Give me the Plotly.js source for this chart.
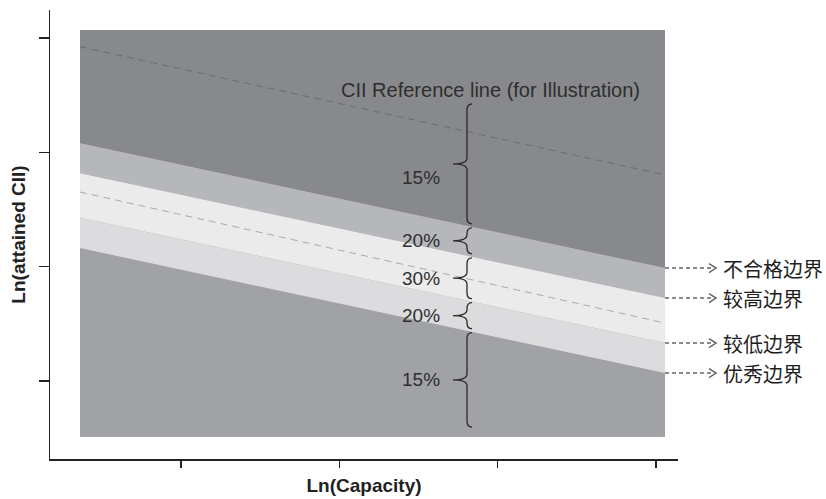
<!DOCTYPE html>
<html><head><meta charset="utf-8">
<script src="https://cdn.plot.ly/plotly-3.0.1.min.js"></script>
<style>html,body{margin:0;padding:0;background:#fff}</style>
</head><body><div id="chart" style="width:826px;height:499px"></div>
<script>
// ---- data (log-space values) ----
const capacityRange = [0.362, 4.057];          // Ln(Capacity) extent of the shaded region
const regionTop = 4.07;
const regionBottom = 0.510;
const refLineTop = [3.924, 2.802];             // CII reference line (illustration), left/right
const refLineMid = [2.653, 1.507];             // reference line inside the middle band
const boundaryNames = ['不合格边界', '较高边界', '较低边界', '优秀边界'];
const boundaryLeft  = [3.079, 2.817, 2.428, 2.163];
const boundaryRight = [1.988, 1.726, 1.332, 1.070];
const bandLabels = ['15%', '20%', '30%', '20%', '15%'];
const tickVals = [1, 2, 3, 4];

// ---- styling ----
const regionColors = ['#88898c', '#b6b7ba', '#ebebec', '#dcdcde', '#a1a2a5'];
const xRange = [0.1726, 4.139];
const yRange = [0.318, 4.245];
const W = 826, H = 499, M = {l: 50, r: 148, t: 10, b: 40};
const plotW = W - M.l - M.r, plotH = H - M.t - M.b;
const pxX = (xRange[1] - xRange[0]) / plotW;   // data per px
const pxY = (yRange[1] - yRange[0]) / plotH;

const x0 = capacityRange[0], x1 = capacityRange[1];
const bAt = (i, x) => boundaryLeft[i] + (boundaryRight[i] - boundaryLeft[i]) * (x - x0) / (x1 - x0);

const traces = [];
function poly(xs, ys, color) {
  traces.push({type: 'scatter', mode: 'lines', x: xs.concat([xs[0]]), y: ys.concat([ys[0]]),
    fill: 'toself', fillcolor: color, line: {width: 0, color: color}, hoverinfo: 'skip', showlegend: false});
}
// whole region (bottom colour)
poly([x0, x1, x1, x0], [regionBottom, regionBottom, regionTop, regionTop], regionColors[4]);
// top region
poly([x0, x1, x1, x0], [boundaryLeft[0], boundaryRight[0], regionTop, regionTop], regionColors[0]);
// bands between boundaries
for (let i = 0; i < 3; i++) {
  poly([x0, x1, x1, x0], [boundaryLeft[i + 1], boundaryRight[i + 1], boundaryRight[i], boundaryLeft[i]], regionColors[i + 1]);
}
// dashed reference lines
traces.push({type: 'scatter', mode: 'lines', x: [x0, x1], y: refLineTop,
  line: {color: '#6b6c6f', width: 1, dash: '7px,5px'}, hoverinfo: 'skip', showlegend: false});
traces.push({type: 'scatter', mode: 'lines', x: [x0, x1], y: refLineMid,
  line: {color: '#a9aaad', width: 1, dash: '7px,5px'}, hoverinfo: 'skip', showlegend: false});

// ---- braces ----
const xBody = x0 + (467 - 80) * pxX;
const xTip = xBody - 14 * pxX;
const xEnd = xBody + 5 * pxX;
const r = 6 * pxY, gap = 2 * pxY;
const braceTops = [regionTop - 74 * pxY];
const braceBots = [];
for (let i = 0; i < 4; i++) {
  braceBots.push(bAt(i, xBody) + gap);
  braceTops.push(bAt(i, xBody) - gap);
}
braceBots.push(regionBottom + 10 * pxY);

const shapes = [];
const annotations = [];
const labelX = xBody - 25 * pxX;
for (let k = 0; k < 5; k++) {
  const yt = braceTops[k], yb = braceBots[k], ym = (yt + yb) / 2;
  const p = `M${xEnd},${yt} Q${xBody},${yt} ${xBody},${yt - r} L${xBody},${ym + r} Q${xBody},${ym} ${xTip},${ym} ` +
            `Q${xBody},${ym} ${xBody},${ym - r} L${xBody},${yb + r} Q${xBody},${yb} ${xEnd},${yb}`;
  shapes.push({type: 'path', xref: 'x', yref: 'y', path: p, line: {color: '#2a2a2a', width: 1.3}});
  annotations.push({xref: 'x', yref: 'y', x: labelX, y: ym - (k === 0 ? 14 * pxY : 0), text: bandLabels[k],
    showarrow: false, xanchor: 'right', yanchor: 'middle',
    font: {family: 'Liberation Sans, Arial, sans-serif', size: 19, color: '#2e2e2e'}});
}
annotations.push({xref: 'x', yref: 'y', x: x0 + (491 - 80) * pxX, y: 3.545, text: 'CII Reference line (for Illustration)',
  showarrow: false, xanchor: 'center', yanchor: 'middle',
  font: {family: 'Liberation Sans, Arial, sans-serif', size: 20, color: '#2e2e2e'}});

// ---- boundary arrows + labels ----
const toPaperX = v => (v - xRange[0]) / (xRange[1] - xRange[0]);
const toPaperY = v => (v - yRange[0]) / (yRange[1] - yRange[0]);
const ax0 = toPaperX(x1), ax1 = ax0 + 46 / plotW, axTip = ax0 + 51 / plotW, axBack = ax0 + 44 / plotW;
for (let i = 0; i < 4; i++) {
  const py = toPaperY(boundaryRight[i]);
  shapes.push({type: 'line', xref: 'paper', yref: 'paper', x0: ax0, x1: ax1, y0: py, y1: py,
    line: {color: '#666', width: 1.5, dash: '4px,3px'}});
  shapes.push({type: 'path', xref: 'paper', yref: 'paper',
    path: `M${axBack},${py + 4.5 / plotH} L${axTip},${py} L${axBack},${py - 4.5 / plotH}`,
    line: {color: '#666', width: 1.5}});
  annotations.push({xref: 'paper', yref: 'y', x: ax0 + 56 / plotW, y: boundaryRight[i], text: boundaryNames[i],
    showarrow: false, xanchor: 'left', yanchor: 'middle',
    font: {family: 'Noto Sans CJK SC, sans-serif', size: 20, color: '#1e1e1e'}});
}

const axisCommon = {showgrid: false, zeroline: false, showline: true, linecolor: '#222', linewidth: 1.5,
  ticks: 'outside', tickcolor: '#222', tickwidth: 1.5, showticklabels: false, tickmode: 'array', tickvals: tickVals,
  fixedrange: true};

const layout = {
  width: W, height: H, margin: M, paper_bgcolor: '#fff', plot_bgcolor: '#fff', showlegend: false,
  xaxis: Object.assign({}, axisCommon, {range: xRange, ticklen: 7,
    title: {text: '<b>Ln(Capacity)</b>', standoff: 12, font: {family: 'Liberation Sans, Arial, sans-serif', size: 19, color: '#222'}}}),
  yaxis: Object.assign({}, axisCommon, {range: yRange, ticklen: 10,
    title: {text: '<b>Ln(attained CII)</b>', standoff: 8, font: {family: 'Liberation Sans, Arial, sans-serif', size: 19, color: '#222'}}}),
  shapes: shapes, annotations: annotations
};
Plotly.newPlot('chart', traces, layout, {staticPlot: true});
</script></body></html>
